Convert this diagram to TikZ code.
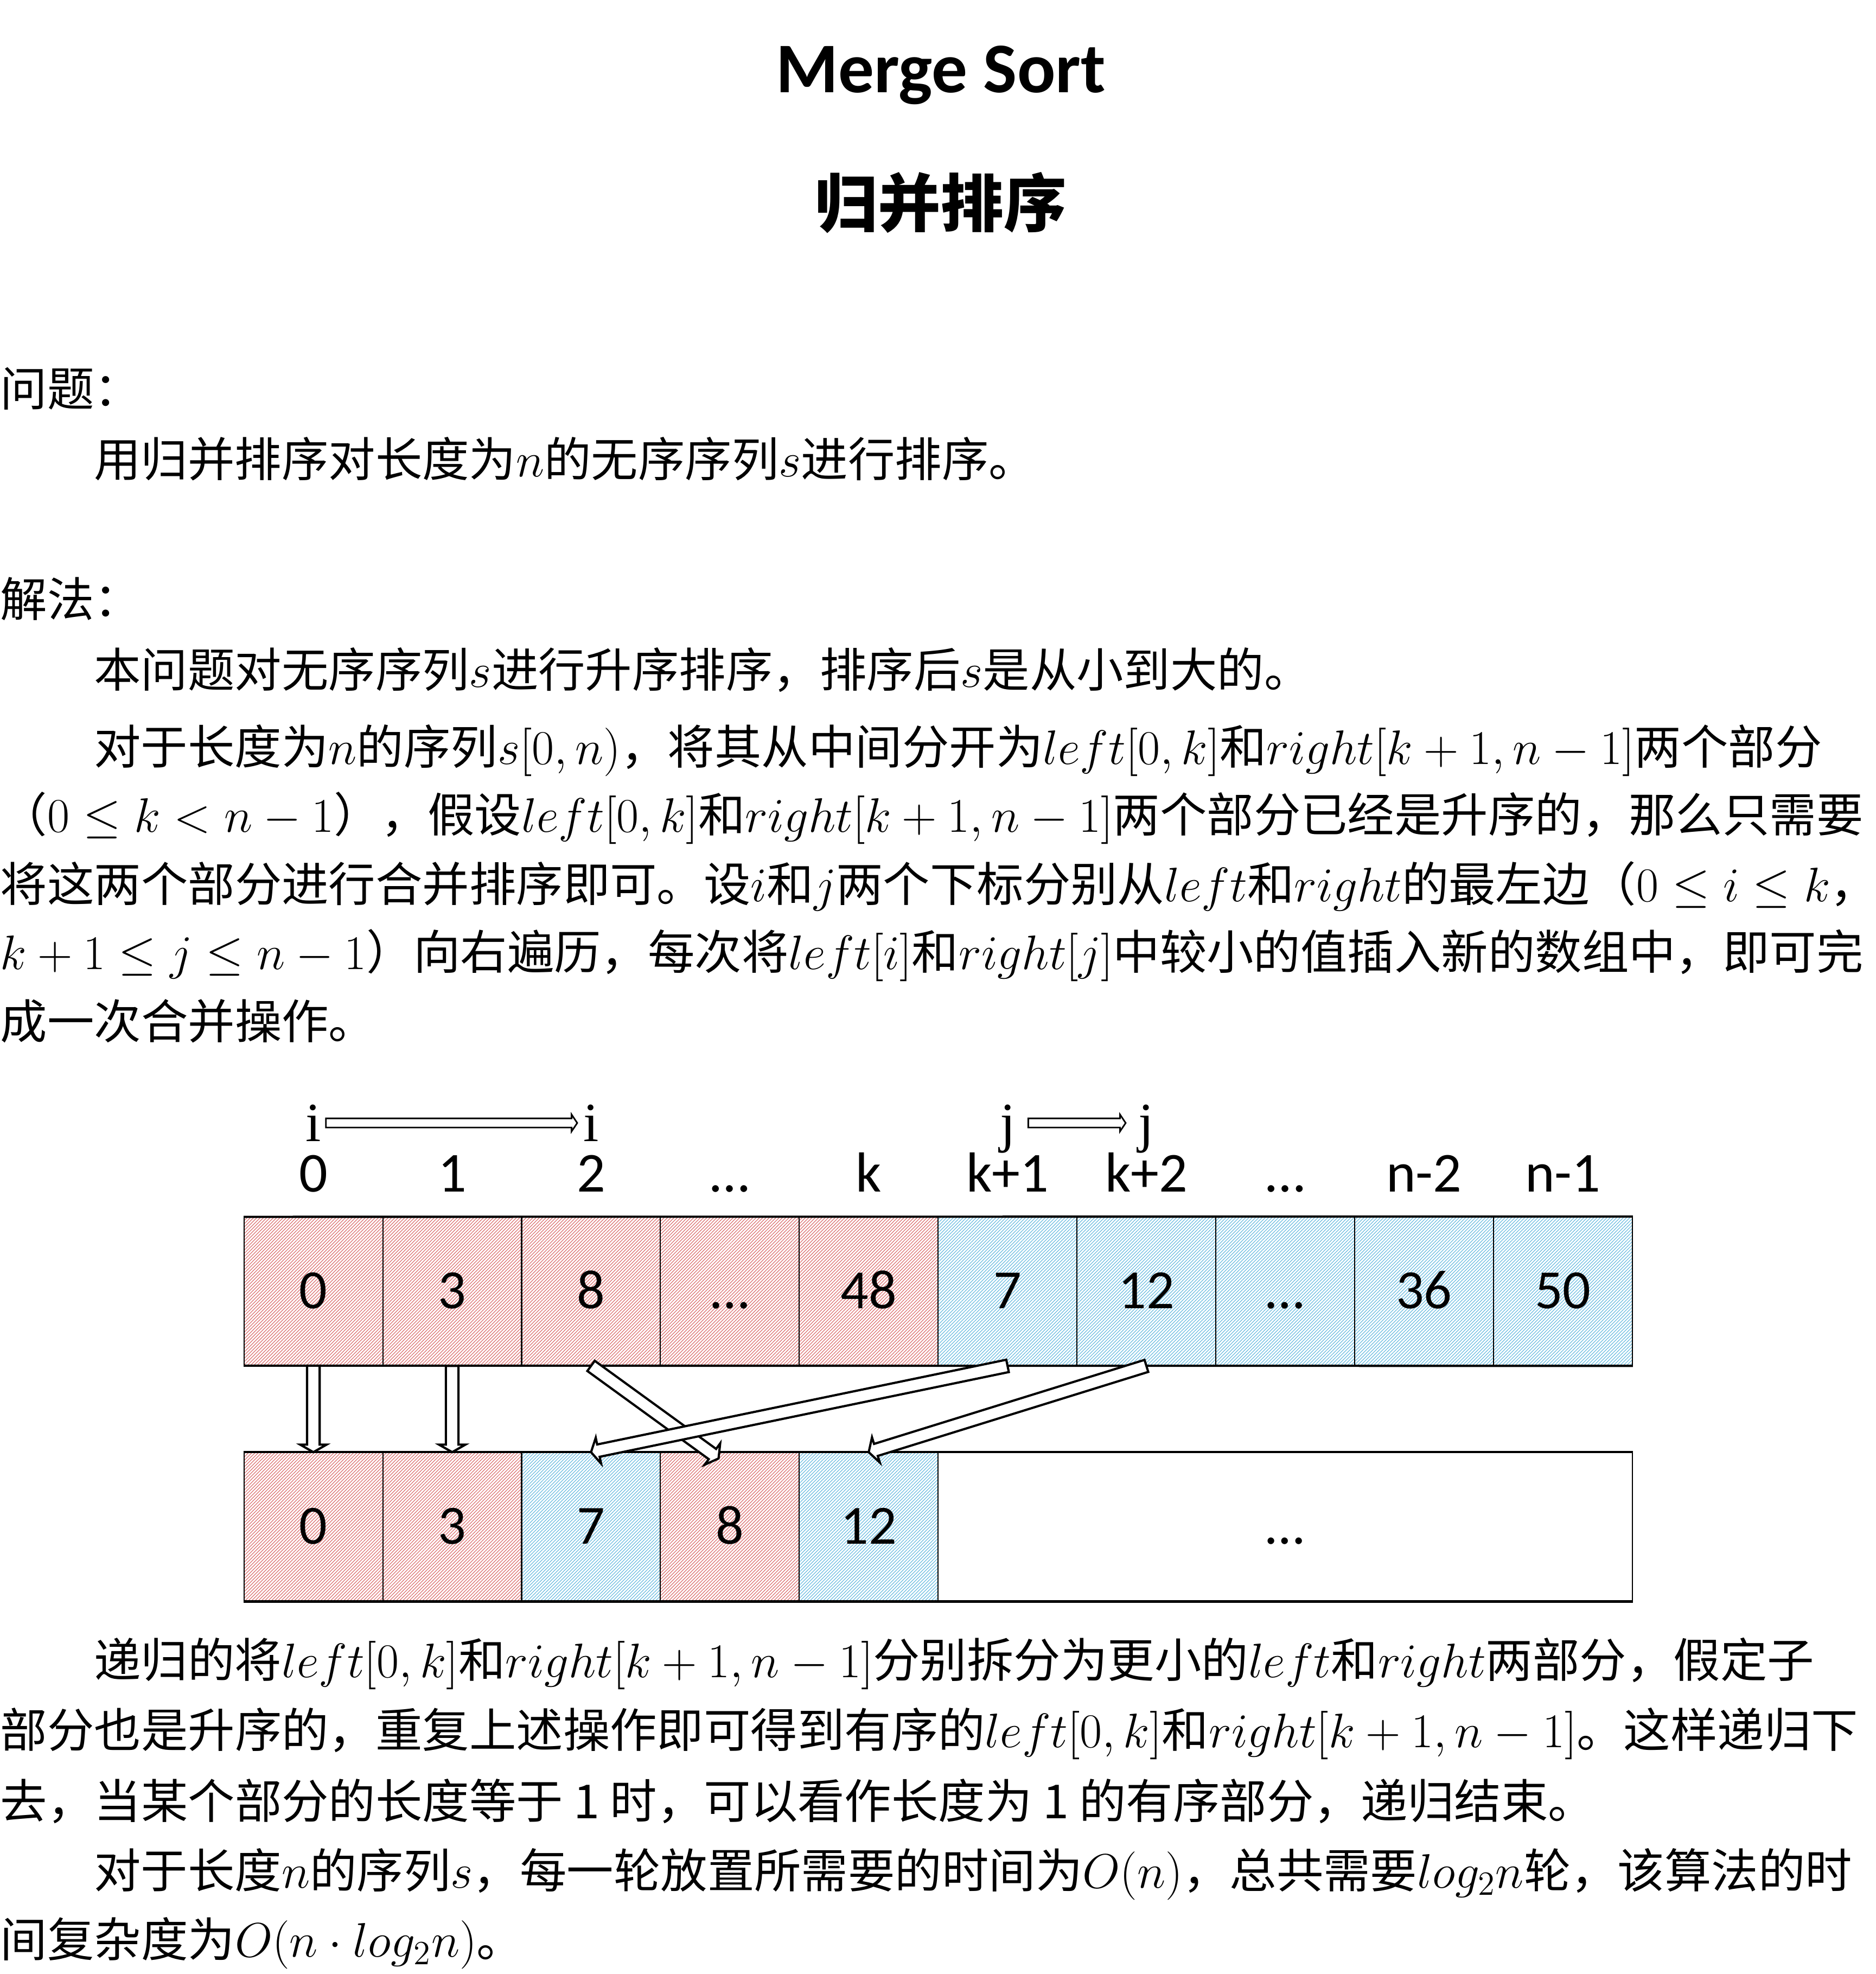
\documentclass[tikz,border=0pt]{standalone}
\usepackage{fix-cm}
\usepackage{fontspec}
\newfontfamily\cjkfont{Noto Sans CJK SC}
\newfontfamily\calfont{Carlito}
\newfontfamily\serfont{Liberation Serif}
\usetikzlibrary{calc,patterns.meta}
\DeclareMathSizes{21.2}{21.9}{15.3}{11.3}

\definecolor{leftred}{RGB}{215,95,95}
\definecolor{rightblue}{RGB}{90,180,220}

\tikzset{
  body/.style={anchor=base west, inner sep=0pt, font=\cjkfont\fontsize{21.2}{25}\selectfont},
  cell/.style={draw, line width=0.5pt, minimum width=2.206cm, minimum height=2.355cm,
    inner sep=0pt, text height=0.54cm, text depth=0pt, font=\calfont\fontsize{25}{28}\selectfont},
  redcell/.style={cell, pattern={Lines[angle=45,distance=1.05pt,line width=0.26pt]}, pattern color=leftred},
  bluecell/.style={cell, pattern={Lines[angle=45,distance=1.05pt,line width=0.26pt]}, pattern color=rightblue},
  idx/.style={anchor=base, inner sep=0pt, font=\calfont\fontsize{25.5}{28}\selectfont},
  ptr/.style={anchor=base, inner sep=0pt, text height=0.58cm, text depth=0pt, font=\serfont\fontsize{25}{28}\selectfont},
  rowline/.style={line width=1pt},
  arrowline/.style={draw, fill=white, line width=1pt, line join=miter},
  ptrline/.style={draw, fill=white, line width=0.7pt, line join=miter},
}

% hollow block arrow: style, tail, tip, shaft half width, head half width, head length
\newcommand{\hollowarrow}[6]{%
  \coordinate (ha) at ($(#3)!#6!(#2)$);
  \path[#1] ($(#2)!#4!90:(#3)$) -- ($(ha)!#4!90:(#3)$) -- ($(ha)!#5!90:(#3)$) -- (#3)
    -- ($(ha)!#5!-90:(#3)$) -- ($(ha)!#4!-90:(#3)$) -- ($(#2)!#4!-90:(#3)$) -- cycle;
}

\begin{document}
\begin{tikzpicture}
  \useasboundingbox (0,0) rectangle (29.8,-31.36);

  % titles
  \node[anchor=base, font=\calfont\bfseries\fontsize{32.2}{36}\selectfont] (title) at (14.95,-1.47) {Merge Sort};
  \node[anchor=base, font=\cjkfont\bfseries\fontsize{28.4}{32}\selectfont] (subtitle) at (14.95,-3.6) {归并排序};

  % problem and method
  \node[body] (q0) at (0,-6.45) {问题：};
  \node[body] (q1) at (1.488,-7.57) {用归并排序对长度为$n$的无序序列$s$进行排序。};
  \node[body] (s0) at (0,-9.80) {解法：};
  \node[body] (s1) at (1.488,-10.92) {本问题对无序序列$s$进行升序排序，排序后$s$是从小到大的。};
  \node[body] (s2) at (1.488,-12.14) {对于长度为$n$的序列$s[0,n)$，将其从中间分开为$left[0,k]$和$right[k+1,n-1]$两个部分};
  \node[body] (s3) at (0,-13.22) {（$0\le k<n-1$），假设$left[0,k]$和$right[k+1,n-1]$两个部分已经是升序的，那么只需要};
  \node[body] (s4) at (0,-14.32) {将这两个部分进行合并排序即可。设$i$和$j$两个下标分别从$left$和$right$的最左边（$0\le i\le k$，};
  \node[body] (s5) at (0,-15.40) {$k+1\le j\le n-1$）向右遍历，每次将$left[i]$和$right[j]$中较小的值插入新的数组中，即可完};
  \node[body] (s6) at (0,-16.50) {成一次合并操作。};

  % index labels
  \foreach \v [count=\n from 0] in {0,1,2,…,k,k+1,k+2,…,n-2,n-1}
    \node[idx] (l\n) at ({4.979+2.206*\n},-18.93) {\v};

  % input array
  \foreach \v [count=\n from 0] in {0,3,8,…,48}
    \node[redcell] (t\n) at ({4.979+2.206*\n},-20.513) {\v};
  \foreach \v [count=\n from 5] in {7,12,…,36,50}
    \node[bluecell] (t\n) at ({4.979+2.206*\n},-20.513) {\v};

  % merged array
  \node[redcell] (b0) at (4.979,-24.256) {0};
  \node[redcell] (b1) at (7.185,-24.256) {3};
  \node[bluecell] (b2) at (9.391,-24.256) {7};
  \node[redcell] (b3) at (11.597,-24.256) {8};
  \node[bluecell] (b4) at (13.803,-24.256) {12};
  \node[cell, minimum width=11.03cm] (b5) at (20.421,-24.256) {…};

  \draw[rowline] (t0.north west) -- (t9.north east);
  \draw[rowline] (t0.south west) -- (t9.south east);
  \draw[rowline] (b0.north west) -- (b5.north east);
  \draw[rowline] (b0.south west) -- (b5.south east);

  % pointers
  \node[ptr] (i1) at ($(l0.base)+(0,0.8)$) {i};
  \node[ptr] (i2) at ($(l2.base)+(0,0.8)$) {i};
  \node[ptr] (j1) at ($(l5.base)+(0,0.8)$) {j};
  \node[ptr] (j2) at ($(l6.base)+(0,0.8)$) {j};
  \coordinate (ia) at ($(i1.east)+(0.07,0)$);
  \coordinate (ib) at ($(i2.west)+(-0.09,0)$);
  \coordinate (ja) at ($(j1.east)+(0.2,0)$);
  \coordinate (jb) at ($(j2.west)+(-0.2,0)$);
  \hollowarrow{ptrline}{ia}{ib}{0.073cm}{0.134cm}{0.09cm}
  \hollowarrow{ptrline}{ja}{jb}{0.073cm}{0.134cm}{0.09cm}

  % moves into the merged array
  \coordinate (m8) at ($(b3.north)+(-0.18,-0.1)$);
  \hollowarrow{arrowline}{t0.south}{b0.north}{0.1cm}{0.21cm}{0.12cm}
  \hollowarrow{arrowline}{t1.south}{b1.north}{0.1cm}{0.21cm}{0.12cm}
  \hollowarrow{arrowline}{t2.south}{m8}{0.1cm}{0.21cm}{0.12cm}
  \hollowarrow{arrowline}{t5.south}{b2.north}{0.1cm}{0.21cm}{0.12cm}
  \hollowarrow{arrowline}{t6.south}{b4.north}{0.1cm}{0.21cm}{0.12cm}

  % recursion and cost
  \node[body] (r0) at (1.488,-26.65) {递归的将$left[0,k]$和$right[k+1,n-1]$分别拆分为更小的$left$和$right$两部分，假定子};
  \node[body] (r1) at (0,-27.76) {部分也是升序的，重复上述操作即可得到有序的$left[0,k]$和$right[k+1,n-1]$。这样递归下};
  \node[body] (r2) at (0,-28.89) {去，当某个部分的长度等于 1 时，可以看作长度为 1 的有序部分，递归结束。};
  \node[body] (r3) at (1.488,-29.99) {对于长度$n$的序列$s$，每一轮放置所需要的时间为$O(n)$，总共需要$log_2 n$轮，该算法的时};
  \node[body] (r4) at (0,-31.09) {间复杂度为$O(n\cdot log_2 n)$。};
\end{tikzpicture}
\end{document}
